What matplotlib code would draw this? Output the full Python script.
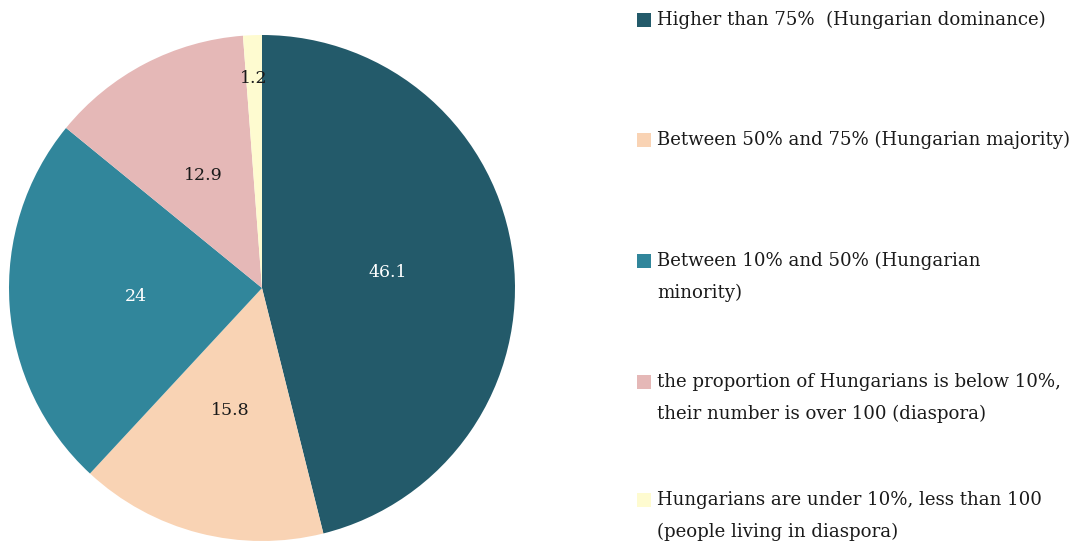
import matplotlib
matplotlib.use("Agg")
import numpy as np
import matplotlib.pyplot as plt
from matplotlib.patches import Rectangle

labels = [
    "Higher than 75%  (Hungarian dominance)",
    "Between 50% and 75% (Hungarian majority)",
    "Between 10% and 50% (Hungarian\nminority)",
    "the proportion of Hungarians is below 10%,\ntheir number is over 100 (diaspora)",
    "Hungarians are under 10%, less than 100\n(people living in diaspora)",
]
values = [46.1, 15.8, 24, 12.9, 1.2]
value_labels = ["46.1", "15.8", "24", "12.9", "1.2"]
colors = ["#235a6a", "#f9d3b4", "#31869b", "#e5b8b7", "#fefbd0"]
text_colors = ["white", "#1a1a1a", "white", "#1a1a1a", "#1a1a1a"]
label_dist = [0.5, 0.5, 0.5, 0.5, 0.83]

plt.rcParams['font.family'] = ['DejaVu Serif', 'Liberation Serif']

W, H = 1076, 541
fig = plt.figure(figsize=(W / 100, H / 100), dpi=100)
cx, cy, r = 262, 288, 253
ax = fig.add_axes([(cx - r) / W, (H - cy - r) / H, 2 * r / W, 2 * r / H])
wedges, _ = ax.pie(values, colors=colors, startangle=90, counterclock=False)
for w, lab, c, d in zip(wedges, value_labels, text_colors, label_dist):
    ang = np.deg2rad((w.theta1 + w.theta2) / 2)
    ax.text(d * np.cos(ang), d * np.sin(ang), lab, color=c, fontsize=12.5,
            ha='center', va='center')
ax.set_xlim(-1, 1)
ax.set_ylim(-1, 1)
ax.set_aspect('equal')
ax.axis('off')

ys = [20, 140, 261, 382, 500]
for lab, col, y in zip(labels, colors, ys):
    fig.patches.append(Rectangle((637 / W, (H - y - 7) / H), 14 / W, 14 / H,
                                 transform=fig.transFigure, facecolor=col,
                                 edgecolor='none'))
    fig.text(657 / W, (H - y + 9) / H, lab, fontsize=13.1, va='top', ha='left',
             color='#1a1a1a', linespacing=1.95)

fig.savefig("out.png", dpi=100)
